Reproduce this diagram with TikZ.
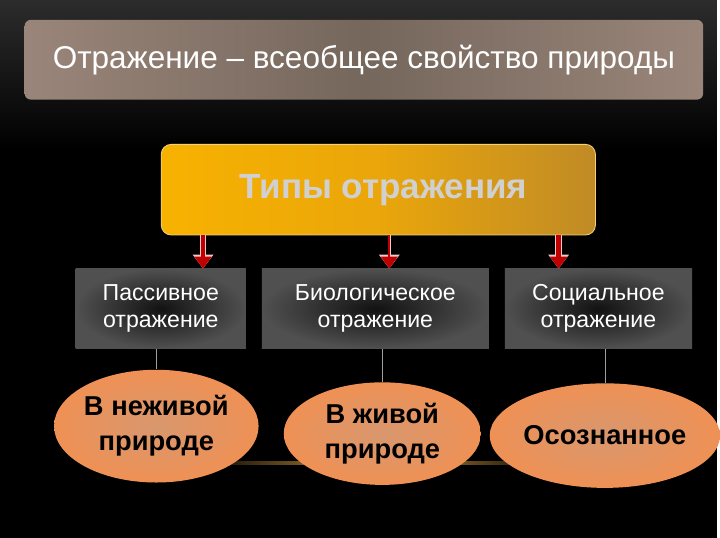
\documentclass[tikz,border=0pt]{standalone}
\usepackage{fontspec}
\setmainfont{Liberation Sans}
\usetikzlibrary{arrows.meta,shapes.geometric}
\definecolor{topgray}{HTML}{2C2C2C}
\definecolor{titleedge}{HTML}{9A857A}
\definecolor{titlemid}{HTML}{75675C}
\definecolor{goldleft}{HTML}{F7B200}
\definecolor{goldmid}{HTML}{EAA60A}
\definecolor{goldright}{HTML}{C08B26}
\definecolor{goldrim}{HTML}{F2D27A}
\definecolor{typetext}{HTML}{D0D0D0}
\definecolor{boxedge}{HTML}{505050}
\definecolor{boxmid}{HTML}{121212}
\definecolor{leafin}{HTML}{D8976E}
\definecolor{leafout}{HTML}{EF9155}
\definecolor{arrowred}{HTML}{C00000}
\definecolor{arrowrim}{HTML}{F3C8C8}
\definecolor{stemgray}{HTML}{A0A0A0}
\definecolor{glowgold}{HTML}{C8913A}

\begin{document}
\begin{tikzpicture}[
      x=0.025cm, y=0.025cm,
      titlebox/.style={rounded corners=0.15cm, left color=titleedge, right color=titleedge, middle color=titlemid,
        minimum width=17.03cm, minimum height=2cm, text=white, font=\fontsize{22.5}{27}\selectfont},
      typebox/.style={rounded corners=0.25cm, draw=goldrim, line width=0.6pt, left color=goldleft, right color=goldright, middle color=goldmid,
        minimum width=10.9cm, minimum height=2.275cm, text=typetext, font=\bfseries\fontsize{25}{30}\selectfont},
      kindbox/.style={inner color=boxmid, outer color=boxedge, minimum height=2cm, align=center,
        text=white, font=\fontsize{16.5}{19.5}\selectfont},
      leaf/.style={ellipse, inner color=leafin, outer color=leafout, inner sep=0pt, align=center,
        font=\bfseries\fontsize{19.5}{25}\selectfont},
      redarrow/.style={draw=arrowred, line width=0.12cm, -{Triangle[width=0.42cm,length=0.3cm]},
        preaction={draw=arrowrim, line width=0.17cm, -{Triangle[width=0.5cm,length=0.35cm]}}},
      thinarrow/.style={draw=arrowred, line width=0.05cm, -{Triangle[width=0.42cm,length=0.3cm]},
        preaction={draw=arrowrim, line width=0.09cm, -{Triangle[width=0.5cm,length=0.35cm]}}},
      stem/.style={draw=stemgray, line width=0.5pt}
    ]
    % Background
    \fill[black] (0,0) rectangle (720,540);
    \shade[top color=topgray, bottom color=black] (0,390) rectangle (720,540);
    \shade[left color=black, right color=black, middle color=glowgold] (195,73) rectangle (565,76);

    % Title and the types of reflection
    \node (title) [titlebox] at (365.5,480) {Отражение – всеобщее свойство природы};
    \node (types) [typebox] at (380,349.5) {\hspace{0.25cm}Типы отражения};

    % Three kinds
    \node (passive) [kindbox, minimum width=4.275cm] at (161.5,230) {Пассивное\\отражение};
    \node (bio) [kindbox, minimum width=5.7cm] at (377,230) {Биологическое\\отражение};
    \node (social) [kindbox, minimum width=4.7cm] at (601,230) {Социальное\\отражение};

    \draw[redarrow] ([xshift=-4.4cm]types.south) -- ([xshift=-4.4cm]types.south |- passive.north);
    \draw[thinarrow] ([xshift=0.275cm]types.south) -- ([xshift=0.275cm]types.south |- bio.north);
    \draw[redarrow] ([xshift=4.525cm]types.south) -- ([xshift=4.525cm]types.south |- social.north);

    % Ellipses
    \node (lifeless) [leaf, minimum width=5.1cm, minimum height=2.83cm] at (157,112) {В неживой\\природе};
    \node (living) [leaf, minimum width=4.95cm, minimum height=2.575cm] at (384,104.5) {В живой\\природе};
    \node (aware) [leaf, minimum width=5.225cm, minimum height=2.625cm] at (607.5,102.5) {Осознанное};

    \draw[stem] (lifeless.north |- passive.south) -- (lifeless.north);
    \draw[stem] (living.north |- bio.south) -- (living.north);
    \draw[stem] (aware.north |- social.south) -- (aware.north);
  \end{tikzpicture}
\end{document}
